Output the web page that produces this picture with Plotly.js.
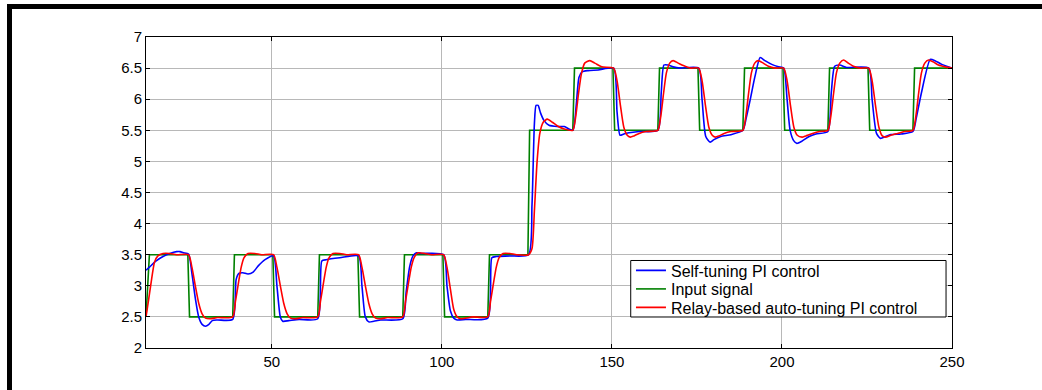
<!DOCTYPE html>
<html>
<head>
<meta charset="utf-8">
<script src="https://cdn.plot.ly/plotly-3.0.1.min.js"></script>
<style>
html,body{margin:0;padding:0;background:#fff;}
#frame{position:absolute;left:7px;top:4px;width:1035px;height:386px;border-top:5px solid #000;border-left:5px solid #000;box-sizing:border-box;}
#chart{position:absolute;left:0;top:0;width:1042px;height:390px;}
</style>
</head>
<body>
<div id="frame"></div>
<div id="chart"></div>
<script>
// Input signal (green) breakpoints
const inputT = [13,14,25.3,25.8,38.5,39,50.3,50.8,63.5,64,75.3,75.8,88.5,89,100.3,100.8,113.5,114,125.3,125.8,138.5,139,150.3,150.8,163.5,164,175.3,175.8,188.5,189,200.3,200.8,213.5,214,225.3,225.8,238.5,239,250];
const inputY = [2.5,3.5,3.5,2.5,2.5,3.5,3.5,2.5,2.5,3.5,3.5,2.5,2.5,3.5,3.5,2.5,2.5,3.5,3.5,5.5,5.5,6.5,6.5,5.5,5.5,6.5,6.5,5.5,5.5,6.5,6.5,5.5,5.5,6.5,6.5,5.5,5.5,6.5,6.5];

// Self-tuning PI control (blue)
const selfT = [13,14,16,18,20,22,23,24,25.5,26.5,27.5,28.5,29.5,30.5,31.5,32.5,34,38.5,
  39.5,40.3,41.5,43,44.5,46,48,50.5,51.5,52.5,53.2,55,58,63.5,
  64.7,66,70,75.5,76.5,77.5,78.5,80,82,88.5,
  89.5,90.5,91.5,92.5,94,100.5,101.5,102.5,103.5,104.5,107,113.5,
  114.7,116,120,125.5,
  126.5,127.2,127.7,128.3,129,130,131.5,134,136,138.5,
  139.5,140.3,141.2,143,146,150.5,151.5,152.4,153.5,155,158,163.5,
  164.5,165.3,166.5,168,170,175.5,176.5,177.6,178.9,180,182,185,188.5,
  189.5,190.7,192,193.6,195,197,199,200.5,201.5,202.4,203.5,204.4,206,208,210,213.5,
  214.5,215.5,217,219,225.5,226.5,227.8,229,230.5,232,235,238.5,
  239.5,241,243.6,245,247,250];
const selfY = [3.25,3.3,3.4,3.47,3.52,3.55,3.55,3.53,3.51,3.2,2.8,2.5,2.38,2.35,2.38,2.44,2.45,2.46,
  3.1,3.2,3.21,3.19,3.22,3.32,3.42,3.48,3.0,2.5,2.43,2.44,2.46,2.47,
  3.4,3.42,3.45,3.48,3.0,2.5,2.42,2.43,2.45,2.47,
  2.9,3.3,3.48,3.53,3.52,3.5,3.0,2.6,2.48,2.45,2.46,2.48,
  3.45,3.47,3.48,3.5,
  4.3,5.6,5.9,5.9,5.78,5.66,5.58,5.56,5.56,5.5,
  5.9,6.35,6.44,6.46,6.47,6.5,5.8,5.42,5.44,5.46,5.48,5.5,
  6.1,6.55,6.55,6.52,6.5,6.5,6.0,5.4,5.31,5.35,5.4,5.43,5.5,
  5.7,6.0,6.35,6.67,6.62,6.56,6.52,6.5,6.0,5.5,5.33,5.29,5.33,5.4,5.44,5.48,
  6.1,6.53,6.55,6.51,6.5,6.0,5.45,5.37,5.4,5.43,5.44,5.48,
  5.7,6.1,6.64,6.62,6.56,6.5];

// Relay-based auto-tuning PI control (red)
const relayT = [13,13.7,14.5,15.5,16.5,18,20,22,25.5,26.5,27.5,28.5,29.5,30.5,32,34,38.5,
  39.3,40.2,41,41.8,43,45,47,50.5,51.5,52.5,53.5,54.5,55.5,57,59,63.5,
  64.3,65.2,66,66.8,68,70,72,75.5,76.5,77.5,78.5,79.5,80.5,82,84,88.5,
  89.3,90.2,91,91.8,93,95,97,100.5,101.5,102.5,103.5,104.5,105.5,107,109,113.5,
  114.3,115.2,116,116.8,118,120,122,125.5,
  126.5,127.2,128,128.8,129.8,131,132.5,134,136,138.5,
  139.3,140.2,141,142,143.5,145,147,150.5,151.5,152.5,153.5,154.5,155.4,156.5,158,160,163.5,
  164.3,165.2,166,167,168,169.5,171,173,175.5,176.5,177.5,178.5,179.5,180.4,181.5,183,185,188.5,
  189.3,190.2,191,192,193,194.5,196,198,200.5,201.5,202.5,203.5,204.5,205.9,207,209,211,213.5,
  214.3,215.2,216,217,218.1,219.5,221,223,225.5,226.5,227.5,228.5,229.5,230.5,232,234,236,238.5,
  239.3,240.2,241,242,243.1,244.5,246,248,250];
const relayY = [2.5,2.75,3.05,3.38,3.48,3.52,3.52,3.5,3.5,3.3,3.0,2.72,2.55,2.48,2.47,2.49,2.5,
  2.75,3.05,3.3,3.45,3.52,3.52,3.5,3.5,3.3,3.0,2.72,2.55,2.48,2.47,2.49,2.5,
  2.75,3.05,3.3,3.45,3.52,3.52,3.5,3.5,3.3,3.0,2.72,2.55,2.48,2.47,2.49,2.5,
  2.75,3.05,3.3,3.45,3.53,3.52,3.5,3.5,3.3,2.95,2.62,2.5,2.47,2.48,2.5,2.5,
  2.75,3.05,3.3,3.45,3.52,3.52,3.5,3.5,
  3.6,4.2,5.0,5.45,5.63,5.68,5.63,5.57,5.52,5.5,
  5.7,6.1,6.4,6.58,6.62,6.58,6.52,6.5,6.3,5.9,5.55,5.42,5.39,5.41,5.45,5.48,5.5,
  5.7,6.1,6.42,6.58,6.62,6.58,6.54,6.5,6.5,6.3,5.9,5.55,5.42,5.39,5.41,5.45,5.48,5.5,
  5.7,6.1,6.42,6.58,6.62,6.58,6.53,6.5,6.5,6.3,5.9,5.55,5.42,5.39,5.41,5.45,5.48,5.5,
  5.7,6.1,6.42,6.58,6.63,6.58,6.53,6.5,6.5,6.3,5.9,5.55,5.41,5.39,5.42,5.45,5.48,5.5,
  5.7,6.1,6.42,6.58,6.63,6.6,6.55,6.52,6.5];

const xTicks = [50,100,150,200,250];
const yTicks = [2,2.5,3,3.5,4,4.5,5,5.5,6,6.5,7];
const yTickText = ['2','2.5','3','3.5','4','4.5','5','5.5','6','6.5','7'];

const FONT = 'Liberation Sans, Arial, sans-serif';
const traces = [
  {x: inputT, y: inputY, name: 'Input signal', mode: 'lines', line: {color: '#008000', width: 1.6}, legend: 'legend2'},
  {x: selfT, y: selfY, name: 'Self-tuning PI control', mode: 'lines', line: {color: '#0000ff', width: 1.6, shape: 'spline', smoothing: 0.6}, legend: 'legend'},
  {x: relayT, y: relayY, name: 'Relay-based auto-tuning PI control', mode: 'lines', line: {color: '#ff0000', width: 1.6, shape: 'spline', smoothing: 0.6}, legend: 'legend3'}
];

const axisCommon = {
  showline: true, linecolor: '#000', linewidth: 1, mirror: 'ticks',
  ticks: 'inside', ticklen: 4, tickcolor: '#000',
  showgrid: true, gridcolor: '#b8b8b8', gridwidth: 1,
  zeroline: false,
  tickfont: {family: FONT, size: 15, color: '#000'}
};

function leg(y) {
  return {x: 0.6017, y: y, xanchor: 'left', yanchor: 'middle',
    bgcolor: 'rgba(0,0,0,0)', borderwidth: 0,
    font: {family: FONT, size: 16, color: '#000'}};
}

const layout = {
  width: 1042, height: 390,
  margin: {l: 146, r: 90, t: 37, b: 42},
  paper_bgcolor: 'rgba(0,0,0,0)',
  plot_bgcolor: '#fff',
  showlegend: true,
  xaxis: Object.assign({}, axisCommon, {range: [13, 250], tickvals: xTicks, ticktext: xTicks.map(String)}),
  yaxis: Object.assign({}, axisCommon, {range: [2, 7], tickvals: yTicks, ticktext: yTickText}),
  legend: leg(0.2492),
  legend2: leg(0.1897),
  legend3: leg(0.1302),
  shapes: [{type: 'rect', xref: 'paper', yref: 'paper', x0: 0.6014, x1: 0.9926, y0: 0.0997, y1: 0.2814,
    line: {color: '#000', width: 1}, fillcolor: '#fff', layer: 'above'}]
};

Plotly.newPlot('chart', traces, layout, {displayModeBar: false, staticPlot: true});
</script>
</body>
</html>
